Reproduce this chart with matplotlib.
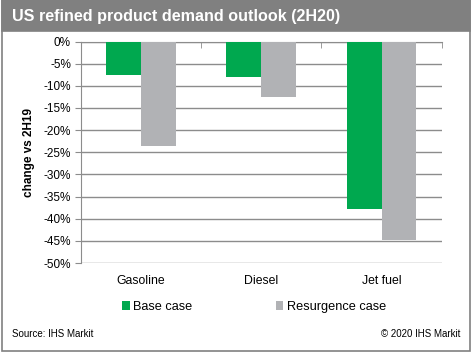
import matplotlib.pyplot as plt
from matplotlib.patches import Rectangle
import numpy as np

plt.rcParams['font.family'] = ['Liberation Sans', 'DejaVu Sans']

# Change in demand vs 2H19 (%)
categories = ['Gasoline', 'Diesel', 'Jet fuel']
base_case = [-7.5, -8.1, -37.7]
resurgence_case = [-23.6, -12.6, -44.7]
y_ticks = list(range(0, -55, -5))

green = '#00a84f'
grey = '#b1b2b5'
frame = '#808080'

fig = plt.figure(figsize=(4.75, 3.56), dpi=100)
W, H = 475, 356

# outer frame and title band
fig.patches.append(Rectangle((2 / W, 5 / H), 468 / W, 351 / H, transform=fig.transFigure,
                             fill=False, edgecolor=frame, linewidth=1.2))
fig.patches.append(Rectangle((2 / W, 1 - 31 / H), 468 / W, 31 / H, transform=fig.transFigure,
                             facecolor=frame, edgecolor=frame, linewidth=1.2))
fig.text(12 / W, 1 - 16 / H, 'US refined product demand outlook (2H20)', color='white',
         fontsize=11.6, fontweight='bold', va='center', ha='left')

ax = fig.add_axes([80.7 / W, 1 - 263 / H, 361 / W, 221.5 / H])
x = np.arange(len(categories))
w = 0.29
ax.bar(x - w / 2, base_case, w, color=green, label='Base case', zorder=3)
ax.bar(x + w / 2, resurgence_case, w, color=grey, label='Resurgence case', zorder=3)

ax.set_xlim(-0.5, 2.5)
ax.set_ylim(-50, 0)
ax.set_yticks(y_ticks)
ax.set_yticklabels([f'{t}%' for t in y_ticks], fontsize=8.5)
ax.yaxis.grid(True, color='#8c8c8c', linewidth=1, zorder=0)
ax.tick_params(axis='y', length=4, color='#8c8c8c', pad=3)

ax.set_xticks(x)
ax.set_xticklabels(categories, fontsize=8.8)
ax.set_xticks([0.5, 1.5, 2.5], minor=True)
ax.tick_params(axis='x', which='major', length=0, pad=9)
ax.tick_params(axis='x', which='minor', bottom=False, top=True, direction='in',
               length=4, color='#8c8c8c')

for s in ['right', 'bottom']:
    ax.spines[s].set_visible(False)
for s in ['left', 'top']:
    ax.spines[s].set_color('#8c8c8c')

ax.set_ylabel('change vs 2H19', fontsize=8.5, fontweight='bold', labelpad=6)

fig.legend(loc='center', bbox_to_anchor=(0.535, 1 - 307 / H), ncol=2, frameon=False,
           fontsize=9.2, handlelength=0.6, handleheight=0.6, handletextpad=0.25,
           columnspacing=6.5)

fig.text(12 / W, 1 - 334 / H, 'Source: IHS Markit', fontsize=7, va='center', ha='left')
fig.text(460 / W, 1 - 334 / H, '© 2020 IHS Markit', fontsize=7, va='center', ha='right')

fig.savefig('out.png', dpi=100)
